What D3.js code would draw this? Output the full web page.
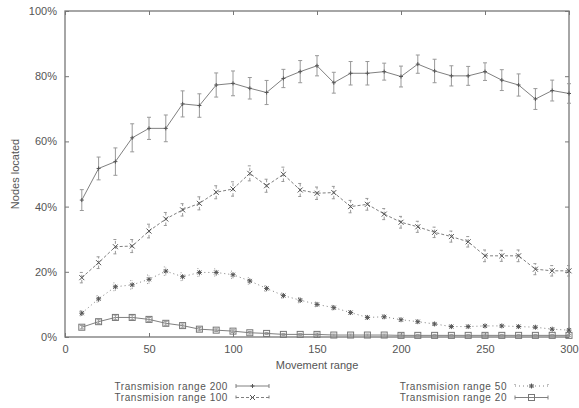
<!DOCTYPE html>
<html lang="en">
<head>
<meta charset="UTF-8">
<title>Nodes located vs movement range</title>
<style>
  body { margin: 0; background: #fff; }
  text { font-family: "Liberation Sans", Arial, sans-serif; font-size: 11px; fill: #555; }
  .axis line { stroke: #777; }
  .axis path { display: none; }
  .legend text { font-size: 10px; letter-spacing: 0.55px; }
</style>
</head>
<body>
<svg id="chart" width="579" height="408"></svg>
<script src="https://cdn.jsdelivr.net/npm/d3@7/dist/d3.min.js"></script>
<script>
// movement range (x)
var movement = [10, 20, 30, 40, 50, 60, 70, 80, 90, 100, 110, 120, 130, 140, 150,
                160, 170, 180, 190, 200, 210, 220, 230, 240, 250, 260, 270, 280, 290, 300];

// nodes located (%) per transmission range
var tr200 = [42.0, 51.7, 53.8, 61.1, 64.0, 64.0, 71.5, 71.0, 77.3, 77.8, 76.3, 75.0, 79.3, 81.4, 83.2,
             78.0, 80.9, 80.9, 81.4, 79.9, 83.7, 81.6, 80.1, 80.1, 81.4, 78.8, 77.3, 73.0, 75.6, 74.7];
var err200 = [3.2, 3.5, 4.2, 4.3, 3.4, 4.1, 4.0, 3.6, 3.7, 3.8, 3.3, 3.7, 2.8, 3.4, 3.1,
              3.2, 3.6, 3.6, 2.6, 3.2, 2.8, 3.6, 3.1, 2.9, 2.7, 3.2, 3.4, 3.2, 3.2, 3.0];

var tr100 = [18.2, 22.8, 27.7, 27.9, 32.5, 36.2, 39.0, 41.0, 44.4, 45.4, 50.2, 46.4, 49.9, 45.1, 44.1,
             44.3, 40.0, 40.7, 37.7, 35.2, 33.8, 32.1, 30.8, 29.2, 24.9, 24.9, 24.9, 20.8, 20.3, 20.3];
var err100 = [1.6, 1.8, 2.2, 2.0, 2.1, 2.0, 1.9, 2.0, 2.0, 2.2, 2.3, 2.0, 2.2, 2.0, 1.9,
              1.9, 1.9, 1.8, 1.7, 1.8, 1.7, 1.6, 1.7, 1.6, 1.8, 1.7, 1.8, 1.7, 1.6, 1.6];

var tr50 = [7.3, 11.7, 15.4, 16.0, 17.7, 20.2, 18.5, 19.8, 19.8, 19.1, 17.2, 14.9, 12.7, 11.3, 10.0,
            9.0, 7.5, 6.0, 6.2, 5.3, 4.7, 4.0, 3.2, 3.2, 3.4, 3.4, 3.2, 3.0, 2.4, 2.1];
var err50 = [0.8, 1.0, 1.2, 1.3, 1.3, 1.3, 1.2, 1.2, 1.1, 1.1, 1.0, 0.9, 0.8, 0.8, 0.7,
             0.7, 0.6, 0.6, 0.6, 0.5, 0.5, 0.5, 0.4, 0.4, 0.4, 0.4, 0.4, 0.4, 0.4, 0.3];

var tr20 = [3.0, 4.7, 6.0, 6.0, 5.4, 4.2, 3.5, 2.4, 2.1, 1.8, 1.3, 1.1, 0.8, 0.8, 0.8,
            0.6, 0.6, 0.6, 0.6, 0.5, 0.5, 0.5, 0.5, 0.5, 0.5, 0.5, 0.5, 0.5, 0.5, 0.5];
var err20 = [0.5, 0.6, 0.7, 0.7, 0.6, 0.6, 0.5, 0.5, 0.4, 0.4, 0.4, 0.3, 0.3, 0.3, 0.4,
             0.3, 0.3, 0.3, 0.3, 0.4, 0.3, 0.3, 0.3, 0.3, 0.4, 0.3, 0.3, 0.3, 0.3, 0.3];

var seriesNames = ["Transmision range 200", "Transmision range 100",
                   "Transmision range 50", "Transmision range 20"];

var xTicks = [0, 50, 100, 150, 200, 250, 300];
var yTicks = [0, 0.2, 0.4, 0.6, 0.8, 1.0];

var svg = d3.select('#chart');
svg.append('rect').attr('width', 579).attr('height', 408).attr('fill', '#fff');

var x = d3.scaleLinear().domain([0, 300]).range([65, 569]);
var y = d3.scaleLinear().domain([0, 100]).range([337, 11]);
var yp = d3.scaleLinear().domain([0, 1]).range([337, 11]);

// axes (ticks inward, mirrored on top/right)
svg.append('g').attr('class', 'axis').attr('transform', 'translate(0,337)')
  .call(d3.axisBottom(x).tickValues(xTicks).tickSizeInner(-4).tickSizeOuter(0).tickPadding(8));
svg.append('g').attr('class', 'axis').attr('transform', 'translate(0,11)')
  .call(d3.axisTop(x).tickValues(xTicks).tickSizeInner(-4).tickSizeOuter(0).tickFormat(''));
svg.append('g').attr('class', 'axis').attr('transform', 'translate(65,0)')
  .call(d3.axisLeft(yp).tickValues(yTicks).tickSizeInner(-4).tickSizeOuter(0)
    .tickPadding(8).tickFormat(d3.format('.0%')));
svg.append('g').attr('class', 'axis').attr('transform', 'translate(569,0)')
  .call(d3.axisRight(yp).tickValues(yTicks).tickSizeInner(-4).tickSizeOuter(0).tickFormat(''));
svg.selectAll('.axis text').attr('fill', '#555').style('font-size', '11px');

svg.append('rect')
  .attr('x', 65).attr('y', 11).attr('width', 504).attr('height', 326)
  .attr('fill', 'none').attr('stroke', '#777').attr('stroke-width', 1.3);

svg.append('text').attr('x', 317).attr('y', 369).attr('text-anchor', 'middle').text('Movement range');
svg.append('text').attr('transform', 'translate(19,174) rotate(-90)')
  .attr('text-anchor', 'middle').text('Nodes located');

// series
var series = [
  { name: seriesNames[0], vals: tr200, errs: err200, dash: null,  marker: 'plus' },
  { name: seriesNames[1], vals: tr100, errs: err100, dash: '3,2', marker: 'cross' },
  { name: seriesNames[2], vals: tr50,  errs: err50,  dash: '1,3', marker: 'star' },
  { name: seriesNames[3], vals: tr20,  errs: err20,  dash: null,  marker: 'square' }
];

var line = d3.line().x(function (d) { return x(d.x); }).y(function (d) { return y(d.v); });
var col = '#808080';

function drawMarker(g, type, cx, cy) {
  if (type === 'plus') {
    g.append('path').attr('d', 'M' + (cx - 2) + ',' + cy + 'h4M' + cx + ',' + (cy - 2) + 'v4')
      .attr('stroke', '#555').attr('stroke-width', 1);
  } else if (type === 'cross') {
    g.append('path').attr('d', 'M' + (cx - 2.5) + ',' + (cy - 2.5) + 'l5,5M' + (cx - 2.5) + ',' + (cy + 2.5) + 'l5,-5')
      .attr('stroke', '#555').attr('stroke-width', 1);
  } else if (type === 'star') {
    g.append('path').attr('d', 'M' + (cx - 2) + ',' + (cy - 2) + 'l4,4M' + (cx - 2) + ',' + (cy + 2) + 'l4,-4M'
      + (cx - 2.5) + ',' + cy + 'h5M' + cx + ',' + (cy - 2.5) + 'v5')
      .attr('stroke', '#555').attr('stroke-width', 1);
  } else {
    g.append('rect').attr('x', cx - 3).attr('y', cy - 3).attr('width', 6).attr('height', 6)
      .attr('fill', 'none').attr('stroke', '#777').attr('stroke-width', 1);
  }
}

series.forEach(function (s) {
  var pts = movement.map(function (m, i) { return { x: m, v: s.vals[i], e: s.errs[i] }; });
  var g = svg.append('g');
  g.append('path').attr('d', line(pts)).attr('fill', 'none')
    .attr('stroke', col).attr('stroke-width', 1)
    .attr('stroke-dasharray', s.dash);
  pts.forEach(function (p) {
    var cx = x(p.x), y0 = y(p.v - p.e), y1 = y(p.v + p.e);
    g.append('path')
      .attr('d', 'M' + cx + ',' + y0 + 'V' + y1 + 'M' + (cx - 2) + ',' + y0 + 'h4M' + (cx - 2) + ',' + y1 + 'h4')
      .attr('stroke', '#999').attr('stroke-width', 1).attr('fill', 'none')
      .attr('stroke-dasharray', s.dash);
    drawMarker(g, s.marker, cx, y(p.v));
  });
});

// legend
var legendPos = [[228, 386], [228, 397.5], [507, 386], [507, 397.5]];
var legend = svg.append('g').attr('class', 'legend');
series.forEach(function (s, i) {
  var lx = legendPos[i][0], ly = legendPos[i][1];
  legend.append('text').attr('x', lx).attr('y', ly + 3.5).attr('text-anchor', 'end').text(s.name);
  var g = legend.append('g');
  g.append('path')
    .attr('d', 'M' + (lx + 8) + ',' + ly + 'H' + (lx + 41) + 'M' + (lx + 8) + ',' + (ly - 2) + 'v4M' + (lx + 41) + ',' + (ly - 2) + 'v4')
    .attr('stroke', col).attr('stroke-width', 1).attr('fill', 'none')
    .attr('stroke-dasharray', s.dash);
  drawMarker(g, s.marker, lx + 24.5, ly);
});
</script>
</body>
</html>
